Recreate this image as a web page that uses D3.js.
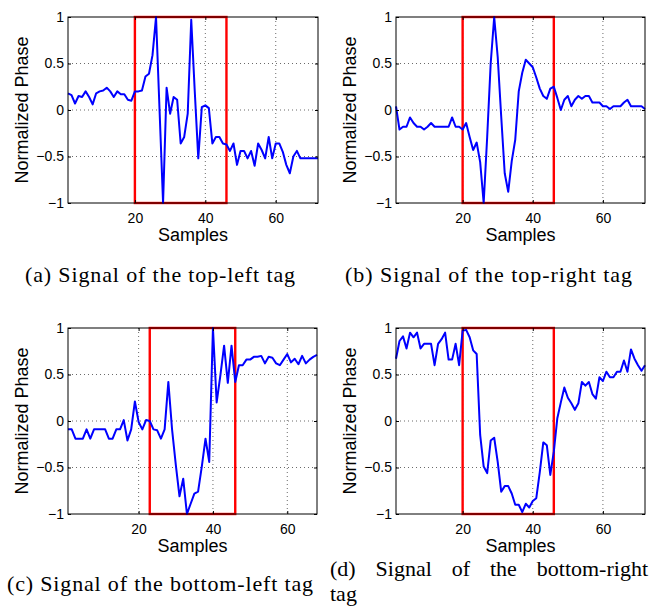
<!DOCTYPE html>
<html>
<head>
<meta charset="utf-8">
<script src="https://cdn.jsdelivr.net/npm/d3@7/dist/d3.min.js"></script>
<style>
  body { margin: 0; background: #fff; }
  svg { display: block; }
</style>
</head>
<body>
<script>
// normalized phase per sample
const topLeft = [
  0.18, 0.16, 0.07, 0.15, 0.14, 0.2, 0.14, 0.06, 0.18, 0.2,
  0.21, 0.24, 0.2, 0.14, 0.2, 0.17, 0.17, 0.11, 0.1, 0.2,
  0.2, 0.21, 0.36, 0.39, 0.59, 1.0, 0.0, -1.0, 0.24, -0.04,
  0.14, 0.11, -0.36, -0.29, -0.04, 0.97, 0.2, -0.52, 0.03, 0.05,
  0.02, -0.36, -0.29, -0.29, -0.36, -0.37, -0.44, -0.36, -0.59, -0.44,
  -0.44, -0.52, -0.44, -0.6, -0.36, -0.43, -0.52, -0.29, -0.52, -0.36,
  -0.36, -0.45, -0.59, -0.68, -0.5, -0.44, -0.52, -0.52, -0.52, -0.52,
  -0.52, -0.52
];

const topRight = [
  0.04, -0.21, -0.18, -0.18, -0.08, -0.14, -0.18, -0.18, -0.21, -0.18,
  -0.14, -0.18, -0.18, -0.18, -0.18, -0.18, -0.08, -0.18, -0.18, -0.21,
  -0.14, -0.29, -0.43, -0.35, -0.56, -1.0, -0.29, 0.5, 1.0, 0.57,
  -0.07, -0.68, -0.88, -0.55, -0.32, 0.2, 0.4, 0.54, 0.5, 0.46,
  0.35, 0.23, 0.15, 0.12, 0.23, 0.25, 0.13, 0.0, 0.11, 0.15,
  0.04, 0.11, 0.15, 0.12, 0.15, 0.15, 0.08, 0.08, 0.08, 0.04,
  0.04, 0.01, 0.04, 0.04, 0.04, 0.08, 0.11, 0.04, 0.04, 0.04,
  0.04, 0.01
];

const bottomLeft = [
  -0.09, -0.09, -0.19, -0.19, -0.19, -0.09, -0.19, -0.09, -0.09, -0.09,
  -0.09, -0.19, -0.19, -0.09, -0.09, 0.01, -0.21, -0.09, 0.21, -0.01,
  -0.09, 0.01, 0.0, -0.09, -0.1, -0.19, -0.09, 0.42, -0.09, -0.47,
  -0.81, -0.62, -1.0, -0.89, -0.78, -0.76, -0.49, -0.19, -0.44, 1.0,
  0.2, 0.49, 0.81, 0.41, 0.81, 0.42, 0.6, 0.6, 0.66, 0.66,
  0.69, 0.69, 0.7, 0.62, 0.69, 0.68, 0.62, 0.6, 0.66, 0.72,
  0.63, 0.67, 0.61, 0.7, 0.62, 0.66, 0.69, 0.71
];

const bottomRight = [
  0.67, 0.86, 0.91, 0.78, 0.95, 0.9, 0.95, 0.78, 0.83, 0.83,
  0.83, 0.6, 0.83, 0.88, 0.95, 0.66, 0.66, 0.83, 0.6, 0.97,
  0.98, 0.9, 0.76, 0.72, -0.15, -0.49, -0.56, -0.21, -0.18, -0.44,
  -0.76, -0.7, -0.7, -0.78, -0.9, -0.9, -0.98, -0.89, -0.93, -0.86,
  -0.83, -0.55, -0.23, -0.26, -0.58, -0.33, 0.03, 0.2, 0.36, 0.25,
  0.19, 0.12, 0.19, 0.42, 0.38, 0.42, 0.29, 0.24, 0.47, 0.43,
  0.53, 0.47, 0.47, 0.53, 0.53, 0.65, 0.53, 0.77, 0.67, 0.6,
  0.54, 0.6
];

// red highlight windows (sample ranges)
const windows = [[20, 46], [20, 46], [23, 46], [20, 46]];

const xTicks = [20, 40, 60];
const yTicks = [-1, -0.5, 0, 0.5, 1];

const captions = [
  "(a) Signal of the top-left tag",
  "(b) Signal of the top-right tag",
  "(c) Signal of the bottom-left tag",
  "(d) Signal of the bottom-right tag",
];

const xLabel = "Samples";
const yLabel = "Normalized Phase";

const width = 651;
const height = 606;

const sans = "'Liberation Sans', Arial, Helvetica, sans-serif";
const serif = "'Liberation Serif', 'Times New Roman', serif";

const svg = d3.select("body")
    .append("svg")
    .attr("xmlns", "http://www.w3.org/2000/svg")
    .attr("width", width)
    .attr("height", height)
    .attr("viewBox", [0, 0, width, height].join(" "));

const panels = [
  { data: topLeft, win: windows[0], left: 68, right: 318, top: 17, bottom: 203 },
  { data: topRight, win: windows[1], left: 396, right: 645, top: 17, bottom: 203 },
  { data: bottomLeft, win: windows[2], left: 68, right: 317, top: 328, bottom: 514 },
  { data: bottomRight, win: windows[3], left: 396, right: 645, top: 328, bottom: 514 },
];

panels.forEach((p, i) => {
  const x = d3.scaleLinear()
      .domain([1, p.data.length])
      .range([p.left, p.right]);

  const y = d3.scaleLinear()
      .domain([-1, 1])
      .range([p.bottom, p.top]);

  const g = svg.append("g").attr("class", "panel");

  // dotted grid
  g.append("g")
      .selectAll("line")
      .data(xTicks)
      .join("line")
      .attr("x1", (d) => x(d))
      .attr("x2", (d) => x(d))
      .attr("y1", p.top)
      .attr("y2", p.bottom)
      .attr("stroke", "#444")
      .attr("stroke-width", 0.8)
      .attr("stroke-dasharray", "1,3");

  g.append("g")
      .selectAll("line")
      .data(yTicks.filter((d) => Math.abs(d) < 1))
      .join("line")
      .attr("x1", p.left)
      .attr("x2", p.right)
      .attr("y1", (d) => y(d))
      .attr("y2", (d) => y(d))
      .attr("stroke", "#444")
      .attr("stroke-width", 0.8)
      .attr("stroke-dasharray", "1,3");

  // highlighted window
  g.append("rect")
      .attr("x", x(p.win[0]))
      .attr("y", y(1))
      .attr("width", x(p.win[1]) - x(p.win[0]))
      .attr("height", y(-1) - y(1))
      .attr("fill", "none")
      .attr("stroke", "#ff0000")
      .attr("stroke-width", 2.4);

  // signal
  const line = d3.line()
      .x((d, j) => x(j + 1))
      .y((d) => y(d));

  g.append("path")
      .datum(p.data)
      .attr("d", line)
      .attr("fill", "none")
      .attr("stroke", "#0000ff")
      .attr("stroke-width", 2)
      .attr("stroke-linejoin", "round");

  // axes box
  g.append("rect")
      .attr("x", p.left)
      .attr("y", p.top)
      .attr("width", p.right - p.left)
      .attr("height", p.bottom - p.top)
      .attr("fill", "none")
      .attr("stroke", "#000")
      .attr("stroke-width", 1);

  const styleAxis = (sel) => {
    sel.select(".domain").remove();
    sel.selectAll(".tick line").attr("stroke", "#000");
    sel.selectAll("text")
        .attr("fill", "#000")
        .style("font-family", sans)
        .style("font-size", "14px");
  };

  g.append("g")
      .attr("transform", `translate(0,${p.bottom})`)
      .call(d3.axisBottom(x).tickValues(xTicks).tickSize(-3).tickPadding(10))
      .call(styleAxis);

  g.append("g")
      .attr("transform", `translate(0,${p.top})`)
      .call(d3.axisTop(x).tickValues(xTicks).tickSize(-3).tickFormat(""))
      .call(styleAxis);

  g.append("g")
      .attr("transform", `translate(${p.left},0)`)
      .call(d3.axisLeft(y).tickValues(yTicks).tickSize(-3).tickPadding(4).tickFormat(d3.format("")))
      .call(styleAxis);

  g.append("g")
      .attr("transform", `translate(${p.right},0)`)
      .call(d3.axisRight(y).tickValues(yTicks).tickSize(-3).tickFormat(""))
      .call(styleAxis);

  // labels
  g.append("text")
      .attr("x", (p.left + p.right) / 2)
      .attr("y", p.bottom + 38)
      .attr("text-anchor", "middle")
      .style("font-family", sans)
      .style("font-size", "18px")
      .text(xLabel);

  g.append("text")
      .attr("transform", `translate(${p.left - 40},${(p.top + p.bottom) / 2}) rotate(-90)`)
      .attr("text-anchor", "middle")
      .style("font-family", sans)
      .style("font-size", "18px")
      .text(yLabel);
});

// captions
const captionSpots = [
  { x: 25, w: 270, y: 282 },
  { x: 345, w: 287, y: 282 },
  { x: 7, w: 306, y: 591 },
];

captionSpots.forEach((c, i) => {
  svg.append("text")
      .attr("x", c.x)
      .attr("y", c.y)
      .attr("textLength", c.w)
      .attr("lengthAdjust", "spacing")
      .style("font-family", serif)
      .style("font-size", "22px")
      .text(captions[i]);
});

// caption (d) is justified over two lines
const words = captions[3].split(" ");
const lastWord = words.pop();
const lineLeft = 330;
const lineRight = 648;

const wordNodes = words.map((w) => svg.append("text")
    .attr("y", 576)
    .style("font-family", serif)
    .style("font-size", "22px")
    .text(w));

const widths = wordNodes.map((n) => n.node().getComputedTextLength());
const gap = (lineRight - lineLeft - d3.sum(widths)) / (words.length - 1);

let cursor = lineLeft;
wordNodes.forEach((n, j) => {
  n.attr("x", cursor);
  cursor += widths[j] + gap;
});

svg.append("text")
    .attr("x", lineLeft)
    .attr("y", 601)
    .style("font-family", serif)
    .style("font-size", "22px")
    .text(lastWord);
</script>
</body>
</html>
